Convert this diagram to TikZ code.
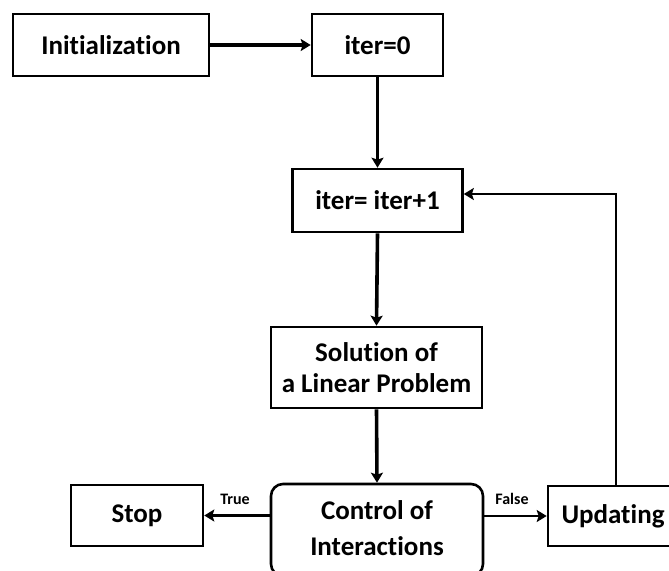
\documentclass[tikz,border=0pt]{standalone}
\usepackage{fontspec}
\setmainfont{Carlito}[Ligatures=NoCommon]
\usetikzlibrary{arrows.meta}
\begin{document}
\begin{tikzpicture}[x=1pt,y=-1pt,
  box/.style={draw,line width=2.6pt,inner sep=0pt,anchor=center,align=center,
    font=\bfseries\fontsize{27}{31}\selectfont},
  conn/.style={line width=3.6pt,-{Stealth[length=10pt,width=12pt,inset=2pt]}},
  back/.style={line width=2.8pt,-{Stealth[length=10pt,width=12pt,inset=2pt]}},
  lbl/.style={font=\bfseries\fontsize{16}{18}\selectfont,inner sep=0pt}]
\useasboundingbox (0,0) rectangle (669,570);
\clip (0,0) rectangle (669,570);
\node[box,minimum width=196,minimum height=62] (init) at (111,45) {Initialization};
\node[box,minimum width=131,minimum height=62] (iter0) at (377.5,45) {iter=0};
\node[box,minimum width=170,minimum height=63] (iter1) at (377.5,200.5) {iter= iter+1};
\node[box,minimum width=211,minimum height=81] (sol) at (376.5,367.5) {Solution of\\a Linear Problem};
\node[box,rounded corners=12pt,minimum width=212,minimum height=92,font=\bfseries\fontsize{27}{36}\selectfont,text depth=4pt] (ctrl) at (377,530) {Control of\\Interactions};
\node[box,minimum width=132,minimum height=61] (stop) at (137,515.5) {Stop};
\node[box,minimum width=136,minimum height=60] (upd) at (616,516) {Updating\hspace*{6pt}};
\draw[conn] (init.east |- iter0.west) -- (iter0.west);
\draw[conn] (iter0.south) -- (iter1.north);
\draw[conn] (iter1.south) -- (sol.north);
\draw[conn] (sol.south) -- (ctrl.north);
\draw[back] (ctrl.west |- stop.east) -- (stop.east);
\draw[back] (ctrl.east |- upd.west) -- (upd.west);
\draw[back] (upd.north) |- ([yshift=6.5pt]iter1.east);
\node[lbl] (ltrue) at (235,499) {True};
\node[lbl] (lfalse) at (512,499) {False};
\end{tikzpicture}
\end{document}
